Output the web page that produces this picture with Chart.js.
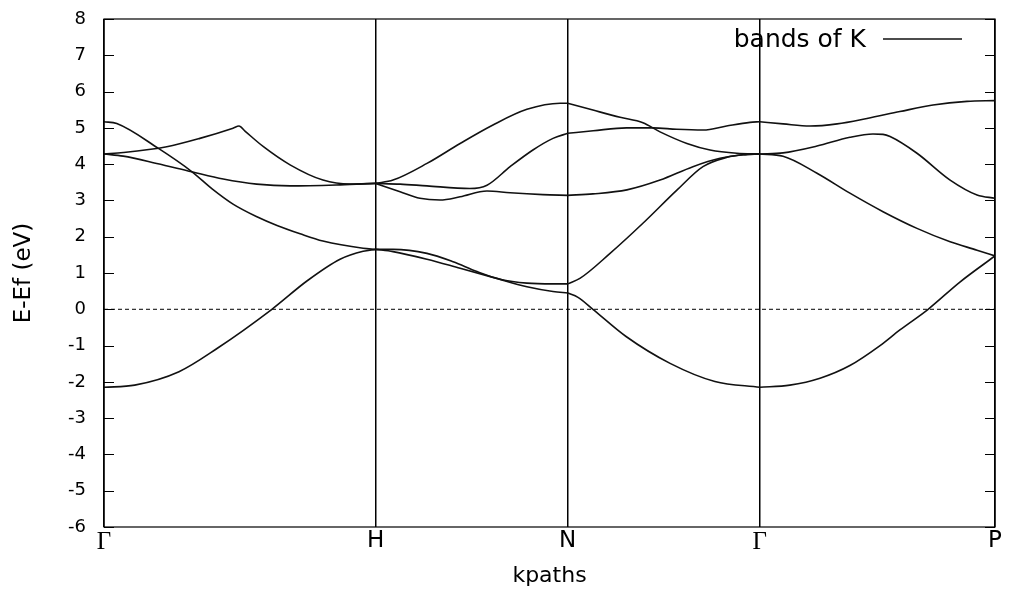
<!DOCTYPE html>
<html>
<head>
<meta charset="utf-8">
<title>bands of K</title>
<script src="https://cdn.jsdelivr.net/npm/chart.js@4.4.1/dist/chart.umd.min.js"></script>
<style>
  html, body { margin: 0; padding: 0; background: #fff; }
  canvas { display: block; }
</style>
</head>
<body>
<canvas id="bandChart" width="1010" height="589"></canvas>
<script>
// bcc k-path, distances in units of 2pi/a
const kLabels = ['Γ', 'H', 'N', 'Γ', 'P'];
const kTicks = [0, 1, 1.7071, 2.4142, 3.2802];

// energy axis, E - Ef in eV
const eMin = -6;
const eMax = 8;

// bands as [k, E-Ef] pairs along the path
const band1 = [
  [0, -2.15], [0.113, -2.09], [0.276, -1.72], [0.416, -1.08], [0.618, 0], [0.747, 0.78], [0.869, 1.38], [0.954, 1.60], [1, 1.65],
  [1.064, 1.59], [1.189, 1.38], [1.311, 1.13], [1.432, 0.88], [1.557, 0.62], [1.653, 0.49], [1.7071, 0.45],
  [1.745, 0.33], [1.80, 0], [1.922, -0.75], [2.084, -1.49], [2.249, -1.99], [2.4142, -2.15],
  [2.525, -2.09], [2.636, -1.90], [2.746, -1.55], [2.857, -1.00], [2.930, -0.57], [3.034, 0], [3.151, 0.75], [3.2802, 1.47]
];
const band2 = [
  [0, 5.17], [0.047, 5.12], [0.199, 4.44], [0.324, 3.79], [0.398, 3.32], [0.475, 2.90], [0.563, 2.55], [0.637, 2.31], [0.722, 2.08], [0.806, 1.88], [0.954, 1.68], [1, 1.65],
  [1.064, 1.65], [1.189, 1.54], [1.285, 1.31], [1.373, 1.04], [1.458, 0.83], [1.557, 0.72], [1.653, 0.70], [1.7071, 0.70],
  [1.752, 0.85], [1.863, 1.54], [1.984, 2.37], [2.110, 3.29], [2.205, 3.93], [2.294, 4.19], [2.353, 4.26], [2.4142, 4.28],
  [2.500, 4.22], [2.625, 3.75], [2.746, 3.20], [2.868, 2.69], [2.993, 2.23], [3.115, 1.86], [3.214, 1.63], [3.2802, 1.47]
];
const band3 = [
  [0, 4.28], [0.071, 4.32], [0.231, 4.48], [0.353, 4.71], [0.475, 4.99], [0.497, 5.05], [0.519, 4.91], [0.587, 4.48], [0.685, 3.98], [0.806, 3.56], [0.906, 3.45], [1, 3.47],
  [1.064, 3.56], [1.189, 4.02], [1.311, 4.57], [1.432, 5.08], [1.557, 5.51], [1.679, 5.68], [1.7071, 5.68],
  [1.800, 5.49], [1.900, 5.29], [1.984, 5.14], [2.047, 4.89], [2.146, 4.57], [2.231, 4.39], [2.330, 4.30], [2.4142, 4.28],
  [2.500, 4.31], [2.625, 4.50], [2.746, 4.74], [2.831, 4.83], [2.868, 4.82], [2.894, 4.76], [2.993, 4.30], [3.115, 3.56], [3.214, 3.15], [3.2802, 3.06]
];
const band4 = [
  [0, 4.28], [0.071, 4.22], [0.194, 4.02], [0.323, 3.79], [0.439, 3.59], [0.562, 3.45], [0.685, 3.40], [0.869, 3.43], [1, 3.47],
  [1.09, 3.45], [1.189, 3.40], [1.347, 3.33], [1.41, 3.42], [1.495, 3.93], [1.579, 4.39], [1.653, 4.71], [1.7071, 4.85],
  [1.801, 4.92], [1.924, 5.00], [2.022, 5.00], [2.108, 4.96], [2.206, 4.94], [2.292, 5.05], [2.378, 5.15], [2.4142, 5.17],
  [2.500, 5.11], [2.599, 5.05], [2.699, 5.11], [2.809, 5.26], [2.930, 5.45], [3.052, 5.63], [3.177, 5.73], [3.2802, 5.75]
];
const band5 = [
  [1, 3.47], [1.09, 3.24], [1.163, 3.06], [1.237, 3.01], [1.311, 3.10], [1.41, 3.26], [1.495, 3.21], [1.616, 3.16], [1.7071, 3.14],
  [1.800, 3.18], [1.925, 3.29], [2.047, 3.56], [2.168, 3.93], [2.268, 4.16], [2.353, 4.26], [2.4142, 4.28]
];

const bands = [band1, band2, band3, band4, band5];

// cut a band into pieces at the high-symmetry points so the kinks there stay sharp
function splitAtKpoints(points) {
  const parts = [];
  let cur = [];
  points.forEach(([k, e]) => {
    cur.push({ x: k, y: e });
    const atKpoint = kTicks.some(t => Math.abs(t - k) < 1e-6);
    if (atKpoint && cur.length > 1) {
      parts.push(cur);
      cur = [{ x: k, y: e }];
    }
  });
  if (cur.length > 1) parts.push(cur);
  return parts;
}

const datasets = [];
bands.forEach(band => {
  splitAtKpoints(band).forEach(part => {
    datasets.push({
      label: 'bands of K',
      data: part,
      borderColor: '#111',
      borderWidth: 1.6,
      pointRadius: 0,
      fill: false,
      cubicInterpolationMode: 'monotone'
    });
  });
});

// Fermi level
datasets.push({
  label: 'Ef',
  data: [{ x: kTicks[0], y: 0 }, { x: kTicks[kTicks.length - 1], y: 0 }],
  borderColor: '#000',
  borderWidth: 1,
  borderDash: [4, 3],
  pointRadius: 0,
  fill: false
});

// frame, inward tick marks and the key in the top right corner
const frameAndKey = {
  id: 'frameAndKey',
  afterDatasetsDraw(chart) {
    const { ctx, chartArea: a, scales } = chart;
    const y = scales.y;
    ctx.save();
    ctx.strokeStyle = '#000';
    ctx.lineWidth = 1.2;
    ctx.strokeRect(a.left, a.top, a.right - a.left, a.bottom - a.top);

    ctx.lineWidth = 1;
    ctx.beginPath();
    y.ticks.forEach(t => {
      const py = Math.round(y.getPixelForValue(t.value)) + 0.5;
      ctx.moveTo(a.left, py);
      ctx.lineTo(a.left + 10, py);
      ctx.moveTo(a.right - 10, py);
      ctx.lineTo(a.right, py);
    });
    ctx.stroke();

    ctx.fillStyle = '#000';
    ctx.font = '25px "DejaVu Sans"';
    ctx.textAlign = 'right';
    ctx.textBaseline = 'alphabetic';
    ctx.fillText('bands of K', 866, 47);
    ctx.strokeStyle = '#111';
    ctx.lineWidth = 1.6;
    ctx.beginPath();
    ctx.moveTo(883, 39);
    ctx.lineTo(962, 39);
    ctx.stroke();
    ctx.restore();
  }
};

new Chart(document.getElementById('bandChart'), {
  type: 'line',
  data: { datasets: datasets },
  options: {
    responsive: false,
    animation: false,
    layout: { padding: { top: 19, right: 15, left: 0, bottom: 0 } },
    plugins: {
      legend: { display: false },
      tooltip: { enabled: false }
    },
    scales: {
      x: {
        type: 'linear',
        min: kTicks[0],
        max: kTicks[kTicks.length - 1],
        afterBuildTicks: scale => {
          scale.ticks = kTicks.map(v => ({ value: v }));
        },
        afterFit: scale => {
          scale.height = 62;
          scale.paddingLeft = 0;
          scale.paddingRight = 0;
        },
        ticks: {
          autoSkip: false,
          maxRotation: 0,
          padding: 0,
          color: '#000',
          callback: (value, index) => kLabels[index],
          font: c => kLabels[c.index] === 'Γ'
            ? { family: 'Liberation Serif', size: 25 }
            : { family: 'DejaVu Sans', size: 23 }
        },
        grid: { color: '#000', lineWidth: 1.5, drawTicks: false },
        border: { display: false },
        title: {
          display: true,
          text: 'kpaths',
          color: '#000',
          font: { family: 'DejaVu Sans', size: 22 },
          padding: { top: 0, bottom: 0 }
        }
      },
      y: {
        min: eMin,
        max: eMax,
        afterFit: scale => {
          scale.width = 104;
          scale.paddingTop = 0;
          scale.paddingBottom = 0;
        },
        ticks: {
          stepSize: 1,
          autoSkip: false,
          padding: 18,
          color: '#000',
          font: { family: 'DejaVu Sans', size: 18 }
        },
        grid: { display: false, drawTicks: false },
        border: { display: false },
        title: {
          display: true,
          text: 'E-Ef (eV)',
          color: '#000',
          font: { family: 'DejaVu Sans', size: 23 },
          padding: { top: 10, bottom: 0 }
        }
      }
    }
  },
  plugins: [frameAndKey]
});
</script>
</body>
</html>
